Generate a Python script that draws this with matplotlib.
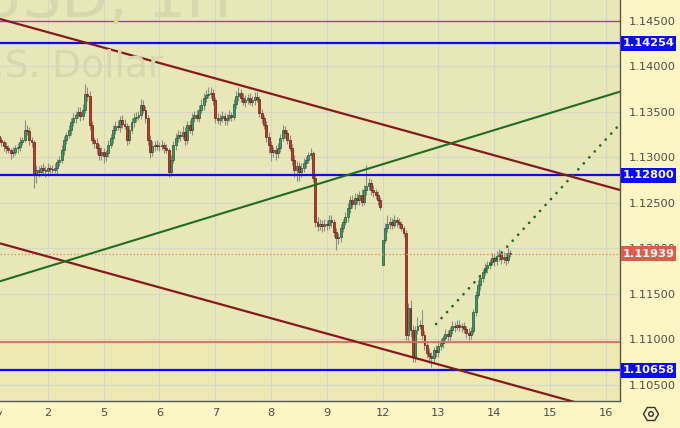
import numpy as np
import matplotlib
matplotlib.use("Agg")
import matplotlib.pyplot as plt
from matplotlib.patches import Rectangle, RegularPolygon, Circle
from matplotlib.transforms import blended_transform_factory, IdentityTransform

# ---------------- data ----------------
# hourly closes, EURUSD 1H, hour index counted from May 1 00:00 (trading hours only)
closes = [
    1.13245, 1.13212, 1.13234, 1.13190, 1.13168, 1.13124, 1.13102, 1.13080,
    1.13047, 1.13058, 1.13102, 1.13113, 1.13168, 1.13190, 1.13300, 1.13290,
    1.13190, 1.13168, 1.12816, 1.12860, 1.12838, 1.12882, 1.12860, 1.12849,
    1.12882, 1.12871, 1.12860, 1.12882, 1.12948, 1.12970, 1.13080, 1.13190,
    1.13245, 1.13300, 1.13388, 1.13432, 1.13465, 1.13498, 1.13454, 1.13520,
    1.13696, 1.13674, 1.13355, 1.13190, 1.13157, 1.13102, 1.13025, 1.13058,
    1.13014, 1.13047, 1.13135, 1.13212, 1.13300, 1.13344, 1.13333, 1.13410,
    1.13366, 1.13344, 1.13190, 1.13300, 1.13388, 1.13432, 1.13443, 1.13465,
    1.13575, 1.13520, 1.13432, 1.13190, 1.13058, 1.13124, 1.13135, 1.13124,
    1.13120, 1.13135, 1.13102, 1.13080, 1.12838, 1.12970, 1.13135, 1.13212,
    1.13245, 1.13234, 1.13278, 1.13190, 1.13355, 1.13300, 1.13432, 1.13465,
    1.13432, 1.13520, 1.13575, 1.13652, 1.13685, 1.13696, 1.13707, 1.13630,
    1.13432, 1.13410, 1.13432, 1.13454, 1.13410, 1.13432, 1.13465, 1.13443,
    1.13586, 1.13674, 1.13707, 1.13652, 1.13608, 1.13630, 1.13652, 1.13608,
    1.13630, 1.13663, 1.13641, 1.13487, 1.13432, 1.13355, 1.13223, 1.13135,
    1.13058, 1.13080, 1.13047, 1.13102, 1.13212, 1.13300, 1.13267, 1.13190,
    1.13102, 1.12970, 1.12860, 1.12904, 1.12838, 1.12882, 1.12937, 1.12970,
    1.13025, 1.13047, 1.12772, 1.12288, 1.12244, 1.12266, 1.12244, 1.12266,
    1.12255, 1.12310, 1.12288, 1.12178, 1.12112, 1.12120, 1.12222, 1.12288,
    1.12343, 1.12442, 1.12530, 1.12486, 1.12552, 1.12530, 1.12585, 1.12508,
    1.12640, 1.12684, 1.12717, 1.12640, 1.12618, 1.12585, 1.12530, 1.12453,
    1.12090, 1.12222, 1.12266, 1.12288, 1.12255, 1.12310, 1.12288, 1.12266,
    1.12222, 1.12167, 1.11045, 1.11342, 1.11100, 1.10803, 1.11100, 1.11144,
    1.11155, 1.11045, 1.10935, 1.10847, 1.10815, 1.10792, 1.10880, 1.10858,
    1.10924, 1.10957, 1.11012, 1.11056, 1.11034, 1.11100, 1.11144, 1.11133,
    1.11155, 1.11133, 1.11144, 1.11111, 1.11067, 1.11045, 1.11089, 1.11298,
    1.11485, 1.11595, 1.11672, 1.11738, 1.11782, 1.11815, 1.11848, 1.11892,
    1.11859, 1.11914, 1.11936, 1.11881, 1.11903, 1.11870, 1.11947, 1.11939,
]
first_open = 1.13230
gap_open_hour = 168          # Monday May 12 weekend gap
gap_open_price = 1.11815

# wick extensions beyond the body, in pips
wick_up = [
    3, 4, 2, 5, 3, 2, 4, 3, 2, 5, 3, 4, 6, 3, 11, 6, 4, 3, 2, 5, 4, 3, 6, 4,
    5, 3, 4, 6, 3, 4, 5, 4, 3, 6, 4, 5, 4, 6, 5, 7, 11, 8, 5, 4, 3, 5, 4, 6,
    4, 3, 5, 4, 6, 5, 7, 4, 5, 6, 3, 5, 4, 6, 5, 4, 7, 6, 4, 3, 5, 6, 4, 5,
    4, 5, 3, 4, 2, 5, 4, 6, 5, 4, 7, 5, 4, 6, 5, 4, 6, 5, 7, 6, 5, 8, 7, 4,
    3, 5, 4, 6, 3, 4, 5, 3, 6, 5, 7, 4, 5, 6, 4, 5, 4, 6, 5, 3, 4, 3, 4, 5,
    4, 3, 5, 6, 4, 5, 4, 3, 5, 4, 6, 5, 4, 6, 5, 4, 3, 5, 2, 4, 5, 6, 4, 5,
    4, 6, 5, 3, 4, 5, 4, 3, 5, 6, 4, 5, 6, 5, 4, 7, 5, 23, 6, 4, 5, 3, 4, 3,
    0, 5, 10, 6, 4, 5, 3, 4, 3, 2, 3, 5, 9, 5, 4, 10, 6, 16, 4, 3, 5, 4, 3, 5,
    4, 5, 3, 6, 4, 3, 5, 4, 6, 5, 3, 4, 3, 5, 4, 3, 4, 5, 4, 3, 5, 4, 3, 5,
    4, 6, 5, 4, 5, 4, 6, 3,
]
wick_dn = [
    4, 3, 5, 3, 4, 6, 5, 3, 7, 4, 3, 5, 4, 3, 2, 4, 5, 6, 15, 10, 6, 4, 5, 7,
    6, 4, 5, 3, 7, 4, 3, 5, 4, 3, 5, 4, 6, 3, 5, 4, 3, 5, 6, 4, 5, 7, 5, 6,
    8, 6, 4, 3, 5, 4, 3, 5, 4, 3, 6, 4, 3, 5, 4, 3, 4, 3, 6, 5, 7, 4, 5, 4,
    5, 4, 6, 3, 6, 4, 3, 5, 4, 6, 3, 5, 4, 3, 5, 4, 3, 4, 3, 5, 4, 3, 4, 5,
    6, 4, 5, 4, 6, 5, 3, 4, 3, 4, 5, 4, 3, 5, 4, 3, 4, 5, 3, 4, 5, 4, 6, 9,
    10, 6, 8, 5, 4, 3, 5, 4, 3, 6, 8, 12, 10, 6, 4, 5, 3, 4, 4, 5, 6, 4, 7, 5,
    6, 4, 5, 6, 13, 7, 5, 4, 3, 5, 6, 4, 5, 4, 5, 4, 3, 5, 4, 6, 5, 4, 5, 3,
    0, 3, 4, 5, 4, 3, 5, 4, 3, 4, 5, 6, 8, 6, 5, 4, 3, 5, 6, 5, 8, 10, 6, 5,
    5, 4, 6, 4, 5, 6, 4, 5, 3, 4, 5, 4, 6, 5, 4, 3, 4, 3, 5, 4, 3, 5, 4, 3,
    5, 4, 6, 5, 4, 6, 3, 4,
]

day_labels = ["May", "2", "5", "6", "7", "8", "9", "12", "13", "14", "15", "16"]
price_ticks = [1.105, 1.110, 1.115, 1.120, 1.125, 1.130, 1.135, 1.140, 1.145]

purple_level = 1.14500
blue_levels = [1.14254, 1.12800, 1.10658]
red_level = 1.10965
last_price = 1.11939

# trend lines: (hour, price) endpoints
channel_upper = [(3.44, 1.14521), (270.1, 1.12640)]
channel_lower = [(3.44, 1.12053), (270.1, 1.10170)]
green_line = [(3.44, 1.11636), (270.1, 1.13722)]
green_dotted = [(191.0, 1.11166), (270.1, 1.13366)]

title_text = "EURUSD, 1H"
subtitle_text = "Euro / U.S. Dollar"

# ---------------- style ----------------
W, H = 680, 428
PLOT_W, PLOT_H = 620, 401
bg_plot = "#e8e7b7"
bg_axis = "#fcf6c4"
grid_c = "#d5d7c9"
up_face, up_edge = "#3f9868", "#1d5a38"
dn_face, dn_edge = "#c03a2b", "#6a1a12"
wick_c = "#8e8e86"
maroon = "#86191c"
green_c = "#1e6e22"
blue_c = "#0a0aff"
label_c = "#4d4d4d"

fig = plt.figure(figsize=(W / 100, H / 100), dpi=100, facecolor=bg_axis)
ax = fig.add_axes([0, (H - PLOT_H) / H, PLOT_W / W, PLOT_H / H])
ax.set_facecolor(bg_plot)

t = np.arange(len(closes))
c = np.array(closes)
o = np.array([first_open] + closes[:-1])
o[gap_open_hour] = gap_open_price
hi = np.maximum(o, c) + np.array(wick_up) * 1e-4
lo = np.minimum(o, c) - np.array(wick_dn) * 1e-4
up = c >= o

# subtle lighter band below the red level
ylo, yhi = 1.10319, 1.14730
ax.axhspan(ylo, red_level, color="#ece9b3", zorder=0)

ax.vlines(t, lo, hi, color=wick_c, lw=0.8, zorder=2)
ax.bar(t[up], (c - o)[up], bottom=o[up], width=0.82, color=up_face,
       edgecolor=up_edge, lw=0.5, zorder=3)
ax.bar(t[~up], (o - c)[~up], bottom=c[~up], width=0.82, color=dn_face,
       edgecolor=dn_edge, lw=0.5, zorder=3)

# horizontal levels
ax.axhline(purple_level, color="#a535d6", lw=1.0, zorder=4)
for lv in blue_levels:
    ax.axhline(lv, color=blue_c, lw=1.6, zorder=4)
ax.axhline(red_level, color="#e2685e", lw=1.3, zorder=4)
ax.axhline(last_price, color="#e98a72", lw=0.9, ls=(0, (1.2, 1.6)), zorder=4)

# trend lines
for ln, col, lw, ls in [(channel_upper, maroon, 1.6, "-"),
                        (channel_lower, maroon, 1.6, "-"),
                        (green_line, green_c, 1.5, "-")]:
    xs, ys = zip(*ln)
    ax.plot(xs, ys, color=col, lw=lw, ls=ls, zorder=5, solid_capstyle="butt")
xs, ys = zip(*green_dotted)
ax.plot(xs, ys, color=green_c, lw=2.0, ls=(0, (0.01, 2.9)),
        dash_capstyle="round", zorder=5)

ax.set_xlim(3.44, 270.1)
ax.set_ylim(ylo, yhi)

# grid / ticks
ax.set_xticks([24 * k for k in range(1, len(day_labels))])
ax.set_xticklabels(day_labels[1:])
ax.set_yticks(price_ticks)
ax.set_yticklabels([f"{p:.5f}" for p in price_ticks])
ax.yaxis.tick_right()
ax.grid(True, color=grid_c, lw=0.8, zorder=1)
ax.set_axisbelow(True)
ax.tick_params(axis="x", length=0, pad=5, labelsize=8.2, labelcolor=label_c)
ax.tick_params(axis="y", length=0, pad=6.5, labelsize=8.2, labelcolor=label_c)
for s in ["top", "left"]:
    ax.spines[s].set_visible(False)
for s in ["right", "bottom"]:
    ax.spines[s].set_color("#555555")
    ax.spines[s].set_linewidth(1.0)
fig.text(-8 / W, 1 - 414 / H, day_labels[0], ha="center", va="center",
         fontsize=8.2, color=label_c)

# watermark
fig.text(232 / W, 1 - 17 / H, title_text, ha="right", va="baseline",
         fontsize=44, color="#d8d7ad", zorder=0.5)
fig.text(163 / W, 1 - 77 / H, subtitle_text, ha="right", va="baseline",
         fontsize=27, color="#d8d7ad", zorder=0.5)

# price labels on the axis
bt = blended_transform_factory(ax.transAxes, ax.transData)
half = 7.5 * (yhi - ylo) / PLOT_H
x0, x1 = 621 / PLOT_W, 676 / PLOT_W
for lv, col in [(blue_levels[0], blue_c), (blue_levels[1], blue_c),
                (blue_levels[2], blue_c), (last_price, "#e15b4c")]:
    ax.add_patch(Rectangle((x0, lv - half), x1 - x0, 2 * half, transform=bt,
                           facecolor=col, edgecolor="none", clip_on=False, zorder=10))
    ax.text((x0 + x1) / 2, lv, f"{lv:.5f}", transform=bt, ha="center", va="center",
            color="white", fontsize=8.2, fontweight="bold", clip_on=False, zorder=11)

# settings gear icon
fig.add_artist(RegularPolygon((651, H - 414), 6, radius=7.5, orientation=np.pi / 6,
                              facecolor="none", edgecolor="#333333", lw=1.0,
                              transform=IdentityTransform()))
fig.add_artist(Circle((651, H - 414), 2.3, facecolor="none", edgecolor="#333333",
                      lw=1.0, transform=IdentityTransform()))

fig.savefig("out.png", dpi=100, facecolor=bg_axis)
